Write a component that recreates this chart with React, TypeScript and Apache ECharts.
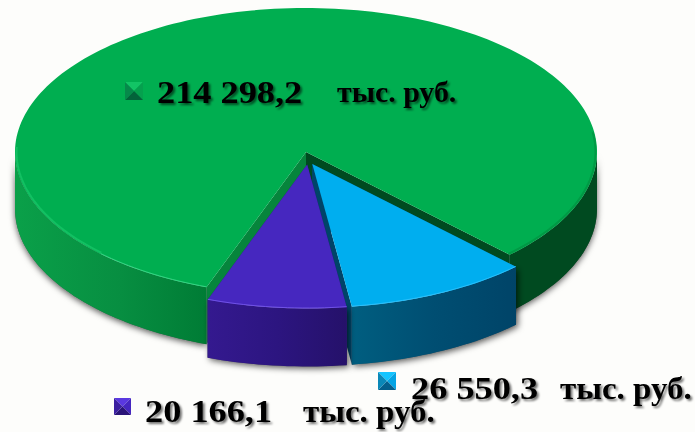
import React, { useEffect, useRef } from "react";
import * as echarts from "echarts";

const sliceNames = ["Зелёный", "Голубой", "Фиолетовый"];
const sliceValues = [214298.2, 26550.3, 20166.1];
const valueLabels = ["214 298,2", "26 550,3", "20 166,1"];
const unitLabel = "тыс. руб.";

const CX = 306, CY = 152, RX = 291, RY = 144;
const START_DEG = 110;
const total = sliceValues.reduce((a, b) => a + b, 0);

const looks = [
  {
    dx: 0, dy: 0, depth: 57, top: "#00AE50",
    side: [[0, "#0AA049"], [0.55, "#078E41"], [1, "#007C35"]],
    cutStart: "#06853C", cutEnd: "#004A20", rim: "#3fe08f",
    marker: ["#12c465", "#05a04e", "#03633a", "#06894a"],
    mx: 125, my: 82, ms: 18, tx: 157, ty: 92, ux: 337, uy: 92, unitFont: 29,
  },
  {
    dx: 6.3, dy: 12, depth: 58, top: "#00AEEF",
    side: [[0, "#005E80"], [0.5, "#004E72"], [1, "#004468"]],
    cutStart: "#00506F", cutEnd: "#004468", rim: "#35c4ff",
    marker: ["#14c4ff", "#04a4e4", "#045f8c", "#0a88b8"],
    mx: 378, my: 372, ms: 18, tx: 411, ty: 388, ux: 560, uy: 388, unitFont: 32,
  },
  {
    dx: 1.2, dy: 12.5, depth: 58, top: "#4627BF",
    side: [[0, "#34198F"], [0.5, "#2C1580"], [1, "#25116A"]],
    cutStart: "#25116A", cutEnd: "#2C1580", rim: "#7a5cf0",
    marker: ["#5a38e0", "#4526c0", "#2a1478", "#3b1fa0"],
    mx: 114, my: 398, ms: 17, tx: 145, ty: 411, ux: 303, uy: 411, unitFont: 32,
  },
];

const FONT = 'bold 32px "Liberation Serif", serif';

function arc(from: number, to: number, ox: number, oy: number, inset = 0) {
  const pts: number[][] = [];
  const n = Math.max(2, Math.ceil(Math.abs(to - from) / 1.5));
  for (let i = 0; i <= n; i++) {
    const t = ((from + ((to - from) * i) / n) * Math.PI) / 180;
    pts.push([CX + ox + (RX - inset) * Math.cos(t), CY + oy + (RY - inset) * Math.sin(t)]);
  }
  return pts;
}

function grad(stops: any[]) {
  return new echarts.graphic.LinearGradient(
    0, 0, 1, 0,
    stops.map((s) => ({ offset: s[0], color: s[1] })),
  );
}

function wall(from: number, to: number, ox: number, oy: number, depth: number, fill: any) {
  const upper = arc(from, to, ox, oy);
  const lower = arc(to, from, ox, oy + depth);
  return { type: "polygon", shape: { points: upper.concat(lower) }, style: { fill } };
}

function renderSlice(params: any, api: any) {
  const i = params.dataIndex;
  const value = api.value(0);
  const before = sliceValues.slice(0, i).reduce((a, b) => a + b, 0);
  const a0 = START_DEG + (before / total) * 360;
  const a1 = a0 + (value / total) * 360;
  const L = looks[i];
  const { dx, dy, depth } = L;
  const ax = CX + dx, ay = CY + dy;
  const p0 = arc(a0, a0, dx, dy)[0];
  const p1 = arc(a1, a1, dx, dy)[0];
  const kids: any[] = [];

  // soft cast shadow below the slice
  const shadowRanges: number[][] =
    i === 0 ? [[a0, 180], [360, a1]] : [[a0, a1]];
  shadowRanges.forEach(([f, t]) => {
    kids.push({
      type: "polygon",
      shape: { points: arc(f, t, dx, dy).concat(arc(t, f, dx, dy + depth)) },
      style: {
        fill: "#555",
        shadowBlur: 6,
        shadowColor: "rgba(0,0,0,0.65)",
        shadowOffsetX: i === 0 ? 0 : 2,
        shadowOffsetY: 2,
      },
    });
  });

  // cut faces
  kids.push({
    type: "polygon",
    shape: { points: [[ax, ay], p0, [p0[0], p0[1] + depth], [ax, ay + depth]] },
    style: { fill: L.cutStart },
  });
  kids.push({
    type: "polygon",
    shape: { points: [[ax, ay], p1, [p1[0], p1[1] + depth], [ax, ay + depth]] },
    style: { fill: L.cutEnd },
  });

  // outer walls
  if (i === 0) {
    kids.push(wall(a0, 180, dx, dy, depth, grad(L.side)));
    kids.push(wall(360, a1, dx, dy, depth, "#004A20"));
  } else {
    kids.push(wall(a0, a1, dx, dy, depth, grad(L.side)));
  }

  // top face
  const topPts = [[ax, ay]].concat(arc(a0, a1, dx, dy));
  kids.push({ type: "polygon", shape: { points: topPts }, style: { fill: L.top } });

  // rim highlight
  if (i === 0) {
    kids.push({
      type: "polyline",
      shape: { points: arc(a0, 135, dx, dy, 0.5) },
      style: { stroke: "#3fe08f", lineWidth: 1, fill: "none", opacity: 0.8 },
    });
    kids.push({
      type: "polyline",
      shape: { points: arc(135, 182, dx, dy, 1.5) },
      style: { stroke: "#12c062", lineWidth: 2, fill: "none" },
    });
    kids.push({
      type: "polyline",
      shape: { points: arc(a1, 352, dx, dy, 1.5) },
      style: { stroke: "#009a45", lineWidth: 2, fill: "none" },
    });
  } else {
    kids.push({
      type: "polyline",
      shape: { points: arc(a0, a1, dx, dy, 0.5) },
      style: { stroke: L.rim, lineWidth: 1, fill: "none", opacity: 0.8 },
    });
  }

  // bevelled square marker
  const { mx, my, ms } = L;
  const c = [mx + ms / 2, my + ms / 2];
  const corners = [[mx, my], [mx + ms, my], [mx + ms, my + ms], [mx, my + ms]];
  L.marker.forEach((fill: string, k: number) => {
    kids.push({
      type: "polygon",
      shape: { points: [corners[k], corners[(k + 1) % 4], c] },
      style: { fill },
    });
  });

  // value and unit
  const textStyle = {
    fill: "#000",
    verticalAlign: "middle",
    textShadowBlur: 2,
    textShadowColor: "rgba(0,0,0,0.55)",
    textShadowOffsetX: 2,
    textShadowOffsetY: 2,
  };
  kids.push({
    type: "text",
    x: L.tx,
    y: L.ty,
    scaleX: 1.135,
    style: { ...textStyle, text: valueLabels[i], font: FONT },
  });
  kids.push({
    type: "text",
    x: L.ux,
    y: L.uy,
    scaleX: 1.03,
    style: { ...textStyle, text: unitLabel, font: `bold ${L.unitFont}px "Liberation Serif", serif` },
  });

  return { type: "group", children: kids };
}

export default function App() {
  const ref = useRef<HTMLDivElement>(null);
  useEffect(() => {
    document.body.style.margin = "0";
    document.body.style.background = "#fdfdfb";
    const chart = echarts.init(ref.current!, null, { renderer: "svg" });
    chart.setOption({
      animation: false,
      backgroundColor: "#fdfdfb",
      series: [
        {
          type: "custom",
          coordinateSystem: "none",
          silent: true,
          clip: false,
          renderItem: renderSlice,
          data: sliceValues.map((v, i) => ({ name: sliceNames[i], value: [v] })),
        },
      ],
    });
    return () => chart.dispose();
  }, []);
  return <div ref={ref} style={{ width: 695, height: 432 }} />;
}
